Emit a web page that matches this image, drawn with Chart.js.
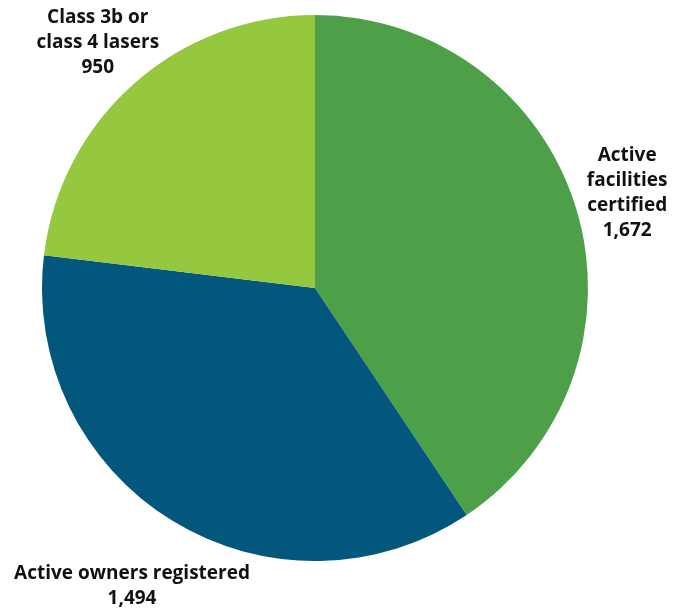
<!DOCTYPE html>
<html>
<head>
<meta charset="utf-8">
<script src="https://cdn.jsdelivr.net/npm/chart.js@4"></script>
<style>
  html, body { margin: 0; padding: 0; background: #ffffff; }
  #wrap { width: 685px; height: 609px; }
</style>
</head>
<body>
<div id="wrap"><canvas id="c" width="685" height="609"></canvas></div>
<script>
const categories = ['Active facilities certified', 'Active owners registered', 'Class 3b or class 4 lasers'];
const labelLines = [['Active', 'facilities', 'certified'], ['Active owners registered'], ['Class 3b or', 'class 4 lasers']];
const values = [1672, 1494, 950];
const colors = ['#4ea048', '#03567c', '#95c83f'];

const outsideLabels = {
  id: 'outsideLabels',
  afterDatasetsDraw(chart, args, opts) {
    const ctx = chart.ctx;
    const meta = chart.getDatasetMeta(0);
    ctx.save();
    ctx.font = opts.font;
    ctx.fillStyle = opts.color;
    ctx.textAlign = 'center';
    ctx.textBaseline = 'middle';
    meta.data.forEach((arc, i) => {
      const p = arc.getProps(['x', 'y', 'startAngle', 'endAngle', 'outerRadius'], true);
      const mid = (p.startAngle + p.endAngle) / 2;
      const r = p.outerRadius * opts.distance[i];
      const cx = p.x + Math.cos(mid) * r;
      const cy = p.y + Math.sin(mid) * r;
      const lines = labelLines[i].concat([values[i].toLocaleString('en-US')]);
      const lh = opts.lineHeight;
      const top = cy - (lines.length - 1) * lh / 2;
      lines.forEach((t, k) => ctx.fillText(t, cx, top + k * lh));
    });
    ctx.restore();
  }
};

new Chart(document.getElementById('c'), {
  type: 'pie',
  data: {
    labels: categories,
    datasets: [{
      data: values,
      backgroundColor: colors,
      borderWidth: 0
    }]
  },
  options: {
    responsive: false,
    devicePixelRatio: 1,
    animation: false,
    layout: { padding: { top: 15, bottom: 48, left: 42, right: 97 } },
    plugins: {
      legend: { display: false },
      tooltip: { enabled: false },
      outsideLabels: {
        font: 'bold 19px "Open Sans"',
        color: '#111111',
        lineHeight: 25,
        distance: [1.195, 1.28, 1.2]
      }
    }
  },
  plugins: [outsideLabels]
});
</script>
</body>
</html>
